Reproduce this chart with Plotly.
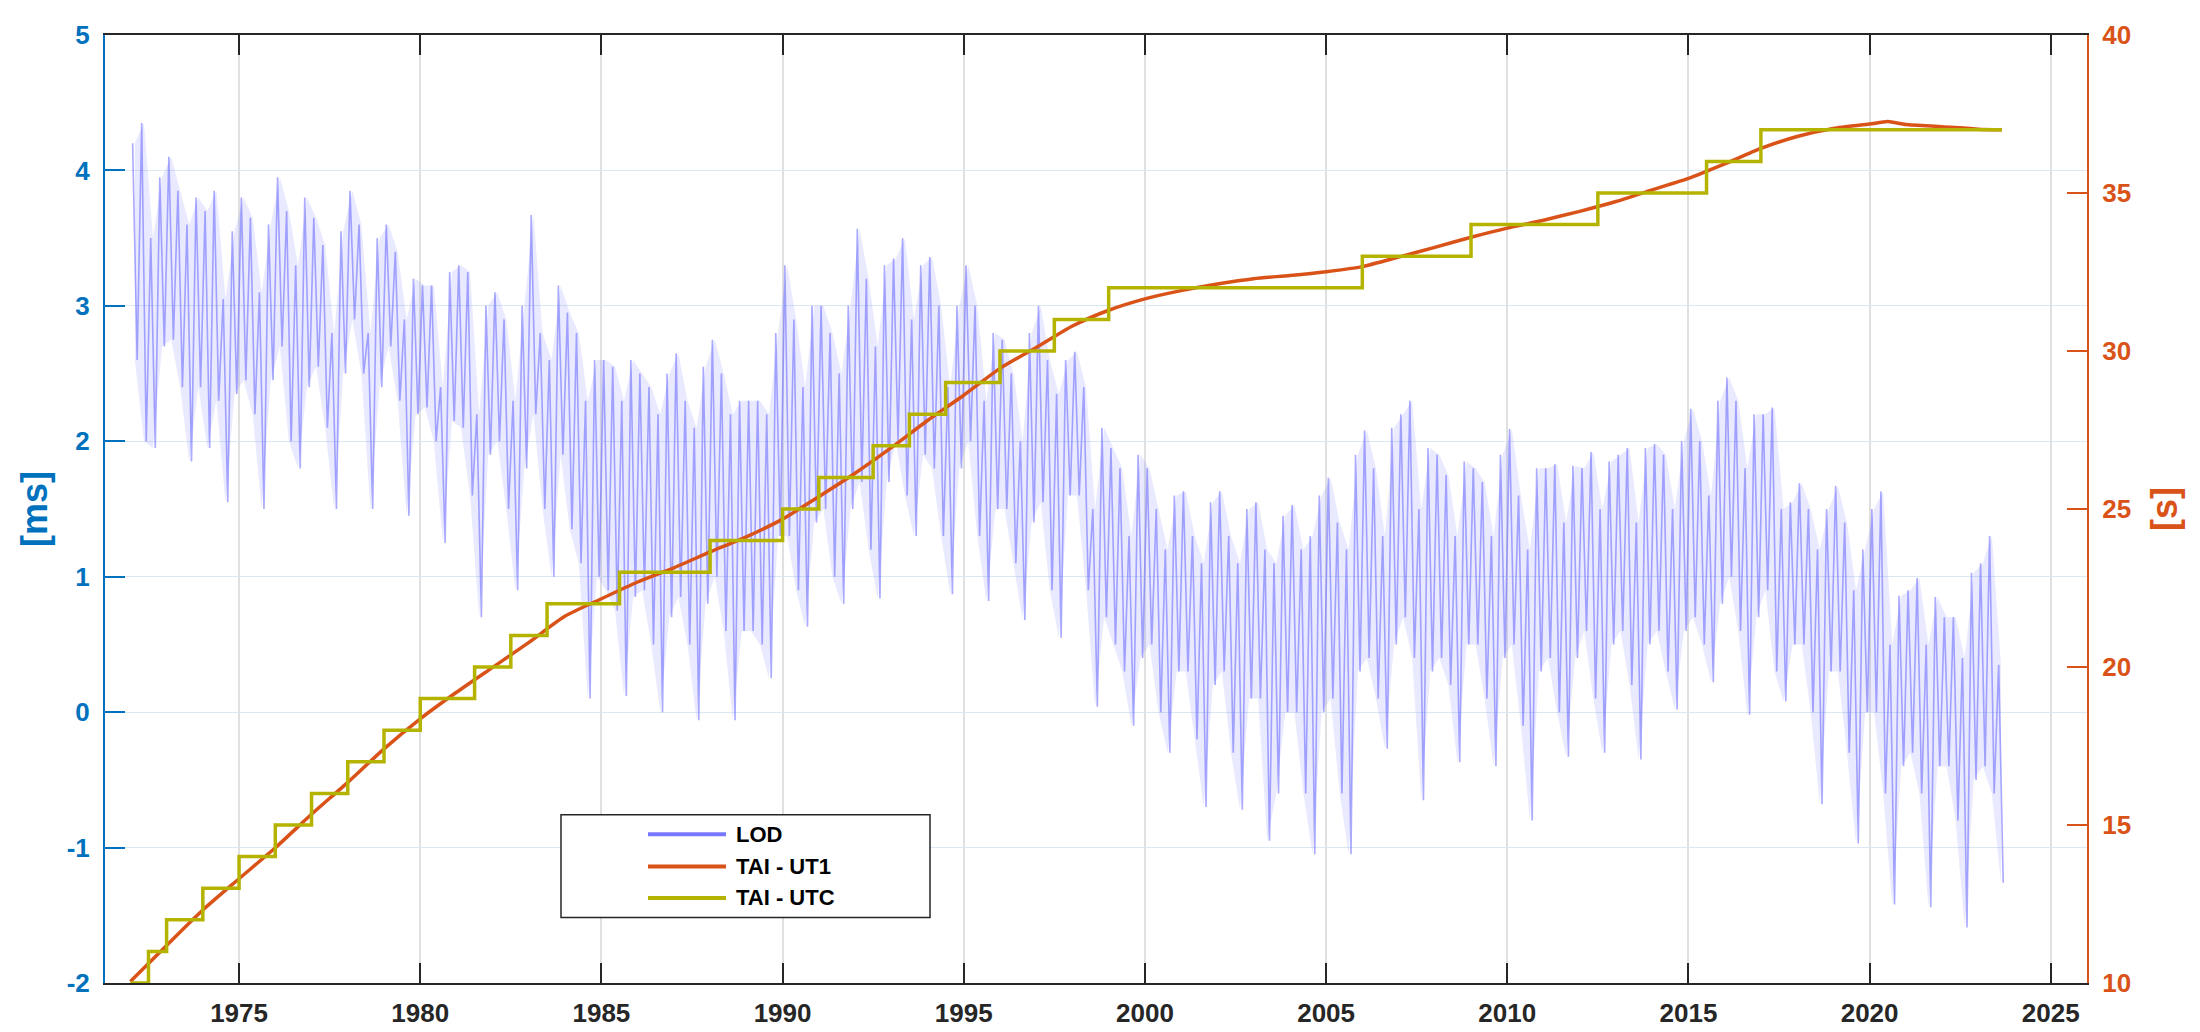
import numpy as np
import plotly.graph_objects as go

# ---------------- data ----------------
# LOD [ms]: quarterly upper / lower envelope of the daily series, 1972.00 ... 2023.50
lod_first_year = 1972.0
lod_hi = [
    4.2, 4.35, 3.5, 3.95,   4.1, 3.85, 3.6, 3.8,    3.7, 3.85, 3.05, 3.55,  3.8, 3.65, 3.1, 3.6,
    3.95, 3.7, 3.3, 3.8,    3.65, 3.45, 2.8, 3.55,  3.85, 3.6, 2.8, 3.5,    3.6, 3.4, 2.9, 3.2,
    3.15, 3.15, 2.4, 3.25,  3.3, 3.25, 2.2, 3.0,    3.1, 2.9, 2.3, 3.0,     3.67, 2.8, 2.6, 3.15,
    2.95, 2.8, 2.3, 2.6,    2.6, 2.55, 2.3, 2.6,    2.5, 2.4, 2.2, 2.5,     2.65, 2.3, 2.1, 2.55,
    2.75, 2.5, 2.2, 2.3,    2.3, 2.3, 2.2, 2.8,     3.3, 2.9, 2.4, 3.0,     3.0, 2.8, 2.5, 3.0,
    3.57, 3.2, 2.7, 3.3,    3.35, 3.5, 2.9, 3.3,    3.36, 3.0, 2.4, 3.0,    3.3, 3.0, 2.3, 2.8,
    2.75, 2.5, 2.0, 2.8,    3.0, 2.6, 2.35, 2.6,    2.66, 2.4, 1.5, 2.1,    1.95, 1.8, 1.3, 1.9,
    1.8, 1.5, 1.2, 1.6,     1.63, 1.3, 1.1, 1.55,   1.63, 1.3, 1.1, 1.5,    1.55, 1.2, 1.1, 1.45,
    1.53, 1.2, 1.3, 1.6,    1.73, 1.4, 1.2, 1.9,    2.08, 1.8, 1.3, 2.1,    2.2, 2.3, 1.5, 1.95,
    1.9, 1.75, 1.3, 1.85,   1.8, 1.7, 1.3, 1.9,     2.09, 1.6, 1.2, 1.8,    1.8, 1.83, 1.4, 1.82,
    1.8, 1.92, 1.5, 1.85,   1.9, 1.95, 1.4, 1.95,   1.98, 1.9, 1.5, 2.0,    2.24, 2.0, 1.6, 2.3,
    2.47, 2.3, 1.8, 2.2,    2.2, 2.25, 1.5, 1.55,   1.69, 1.5, 1.2, 1.5,    1.67, 1.4, 0.9, 1.2,
    1.5, 1.63, 0.5, 0.86,   0.9, 0.99, 0.5, 0.85,   0.7, 0.7, 0.4, 1.03,    1.1, 1.3, 0.35,
]
lod_lo = [
    2.6, 2.0, 1.95, 2.7,    2.75, 2.4, 1.85, 2.4,   1.95, 2.3, 1.55, 2.35,  2.45, 2.2, 1.5, 2.45,
    2.7, 2.0, 1.8, 2.4,     2.55, 2.1, 1.5, 2.5,    2.9, 2.5, 1.5, 2.4,     2.7, 2.3, 1.45, 2.2,
    2.25, 2.0, 1.25, 2.15,  2.1, 1.6, 0.7, 1.9,     2.0, 1.5, 0.9, 1.8,     2.2, 1.5, 1.0, 1.9,
    1.35, 1.1, 0.1, 1.0,    0.9, 0.75, 0.12, 0.85,  0.9, 0.5, 0.0, 0.7,     0.85, 0.5, -0.06, 0.8,
    1.0, 0.6, -0.06, 0.6,   0.6, 0.5, 0.25, 1.3,    1.3, 0.9, 0.63, 1.4,    1.5, 1.0, 0.8, 1.5,
    1.7, 1.2, 0.84, 1.7,    2.0, 1.6, 1.3, 1.9,     1.8, 1.3, 0.87, 1.8,    2.0, 1.3, 0.82, 1.5,
    1.5, 1.1, 0.68, 1.4,    1.55, 0.9, 0.55, 1.6,   1.6, 0.9, 0.04, 0.7,    0.5, 0.3, -0.1, 0.4,
    0.5, 0.0, -0.3, 0.3,    0.3, -0.2, -0.7, 0.2,   0.3, -0.3, -0.72, 0.1,  0.1, -0.95, -0.6, 0.0,
    0.0, -0.6, -1.05, 0.0,  0.1, -0.6, -1.05, 0.3,  0.4, 0.1, -0.27, 0.5,   0.7, 0.4, -0.65, 0.3,
    0.4, 0.2, -0.37, 0.5,   0.5, 0.1, -0.4, 0.4,    0.5, -0.1, -0.8, 0.3,   0.4, 0.0, -0.33, 0.4,
    0.6, 0.1, -0.3, 0.5,    0.6, 0.2, -0.35, 0.5,   0.6, 0.3, 0.02, 0.6,    0.7, 0.5, 0.22, 0.8,
    1.0, 0.6, -0.02, 0.7,   0.9, 0.3, 0.08, 0.5,    0.5, 0.0, -0.68, 0.3,   0.3, -0.3, -0.97, 0.0,
    0.0, -0.6, -1.42, -0.4, -0.3, -0.6, -1.44, -0.4, -0.4, -0.8, -1.59, -0.5, -0.4, -0.6, -1.26,
]

# TAI - UT1 [s]
ut1_year = [1972, 1973, 1974, 1975, 1976, 1977, 1978, 1979, 1980, 1981, 1982, 1983, 1984,
            1985, 1986, 1987, 1988, 1989, 1990, 1991, 1992, 1993, 1994, 1995, 1996, 1997,
            1998, 1999, 2000, 2001, 2002, 2003, 2004, 2005, 2006, 2007, 2008, 2009, 2010,
            2011, 2012, 2013, 2014, 2015, 2016, 2017, 2018, 2019, 2020, 2020.5, 2021, 2022,
            2023, 2023.65]
ut1_value = [10.05, 11.19, 12.31, 13.30, 14.28, 15.34, 16.35, 17.41, 18.36, 19.20, 19.99,
             20.78, 21.61, 22.16, 22.69, 23.14, 23.64, 24.12, 24.68, 25.39, 26.13, 26.94,
             27.80, 28.60, 29.45, 30.11, 30.79, 31.29, 31.65, 31.91, 32.12, 32.29, 32.39,
             32.51, 32.67, 32.97, 33.28, 33.60, 33.89, 34.14, 34.42, 34.73, 35.10, 35.46,
             35.92, 36.41, 36.79, 37.04, 37.18, 37.26, 37.17, 37.10, 37.02, 37.00]

# TAI - UTC [s] (leap-second steps)
utc_year = [1972.0, 1972.5, 1973.0, 1974.0, 1975.0, 1976.0, 1977.0, 1978.0, 1979.0, 1980.0,
            1981.5, 1982.5, 1983.5, 1985.5, 1988.0, 1990.0, 1991.0, 1992.5, 1993.5, 1994.5,
            1996.0, 1997.5, 1999.0, 2006.0, 2009.0, 2012.5, 2015.5, 2017.0, 2023.65]
utc_value = [10, 11, 12, 13, 14, 15, 16, 17, 18, 19, 20, 21, 22, 23, 24, 25, 26, 27, 28, 29,
             30, 31, 32, 33, 34, 35, 36, 37, 37]

x_ticks = [1975, 1980, 1985, 1990, 1995, 2000, 2005, 2010, 2015, 2020, 2025]
left_ticks = [-2, -1, 0, 1, 2, 3, 4, 5]
left_tick_text = ["-2", "-1", "0", "1", "2", "3", "4", "5"]
right_ticks = [10, 15, 20, 25, 30, 35, 40]
legend_labels = ["LOD", "TAI - UT1", "TAI - UTC"]

# ---------------- styling ----------------
C_LOD = "rgba(100,100,255,0.55)"
C_LOD_FILL = "rgba(120,120,255,0.16)"
C_UT1 = "#D95319"
C_UTC = "#B4B400"
C_LEFT = "#0072BD"
C_AX = "#262626"
FONT = "Liberation Sans, Arial, sans-serif"

q_start = lod_first_year + 0.25 * np.arange(len(lod_hi))
lod_x = np.empty(2 * len(lod_hi))
lod_y = np.empty(2 * len(lod_hi))
lod_x[0::2] = q_start + 0.0625
lod_x[1::2] = q_start + 0.1875
lod_y[0::2] = lod_hi
lod_y[1::2] = lod_lo
band_x = q_start + 0.125

fig = go.Figure()
# light envelope band of the LOD series
fig.add_trace(go.Scatter(x=band_x, y=lod_hi, mode="lines", line=dict(width=0),
                         yaxis="y", showlegend=False, hoverinfo="skip"))
fig.add_trace(go.Scatter(x=band_x, y=lod_lo, mode="lines", line=dict(width=0),
                         fill="tonexty", fillcolor=C_LOD_FILL,
                         yaxis="y", showlegend=False, hoverinfo="skip"))
fig.add_trace(go.Scatter(x=lod_x, y=lod_y, mode="lines", name="LOD",
                         line=dict(color=C_LOD, width=1.6), yaxis="y", showlegend=False))
fig.add_trace(go.Scatter(x=ut1_year, y=ut1_value, mode="lines", name="TAI - UT1",
                         line=dict(color=C_UT1, width=3.5, shape="spline", smoothing=0.6),
                         yaxis="y2", showlegend=False))
fig.add_trace(go.Scatter(x=utc_year, y=utc_value, mode="lines", name="TAI - UTC",
                         line=dict(color=C_UTC, width=3.5, shape="hv"),
                         yaxis="y2", showlegend=False))

W, H = 2200, 1032
L, R, T, B = 97, 121, 19, 44
pw, ph = W - L - R, H - T - B


def px(xp):
    return (xp - L) / pw


def py(yp):
    return (H - B - yp) / ph


# manual legend (long line samples as in the reference)
shapes = [dict(type="rect", xref="paper", yref="paper",
               x0=px(553), x1=px(922), y0=py(921), y1=py(816),
               line=dict(color=C_AX, width=1.5), fillcolor="white", layer="above")]
annotations = []
leg_colors = ["#7878FF", C_UT1, C_UTC]
leg_y = [836, 869, 901]
for lab, col, yy in zip(legend_labels, leg_colors, leg_y):
    shapes.append(dict(type="line", xref="paper", yref="paper", x0=px(640), x1=px(718),
                       y0=py(yy), y1=py(yy), line=dict(color=col, width=4), layer="above"))
    annotations.append(dict(text="<b>%s</b>" % lab, xref="paper", yref="paper",
                            x=px(726), y=py(yy), xanchor="left", yanchor="middle",
                            showarrow=False, font=dict(family=FONT, size=22, color="black")))

fig.update_layout(
    width=W, height=H,
    margin=dict(l=L, r=R, t=T, b=B, pad=0),
    paper_bgcolor="white", plot_bgcolor="white",
    showlegend=False,
    shapes=shapes, annotations=annotations,
    xaxis=dict(range=[1971.3, 2026.0], tickvals=x_ticks,
               ticks="inside", ticklen=20, tickwidth=2, tickcolor=C_AX,
               showline=True, linecolor=C_AX, linewidth=2, mirror="ticks",
               showgrid=True, gridcolor="#e0e0e0", gridwidth=1.5, zeroline=False,
               ticklabelstandoff=6,
               tickfont=dict(family=FONT, size=26, color=C_AX, weight="bold")),
    yaxis=dict(range=[-2, 5], tickvals=left_ticks, ticktext=left_tick_text,
               ticks="inside", ticklen=20, tickwidth=2,
               tickcolor=C_LEFT, showline=True, linecolor=C_LEFT, linewidth=2,
               showgrid=True, gridcolor="#dbe8f4", gridwidth=1, zeroline=False,
               ticklabelstandoff=8,
               tickfont=dict(family=FONT, size=26, color=C_LEFT, weight="bold"),
               title=dict(text="[ms]", standoff=8,
                          font=dict(family=FONT, size=36, color=C_LEFT, weight="bold"))),
    yaxis2=dict(range=[10, 40], tickvals=right_ticks, overlaying="y", side="right",
                ticks="inside", ticklen=20, tickwidth=2, tickcolor=C_UT1,
                showline=True, linecolor=C_UT1, linewidth=2, showgrid=False, zeroline=False,
                ticklabelstandoff=8,
                tickfont=dict(family=FONT, size=26, color=C_UT1, weight="bold"),
                title=dict(text="[s]", standoff=22,
                           font=dict(family=FONT, size=36, color=C_UT1, weight="bold"))),
)

fig.write_html("out.html")
